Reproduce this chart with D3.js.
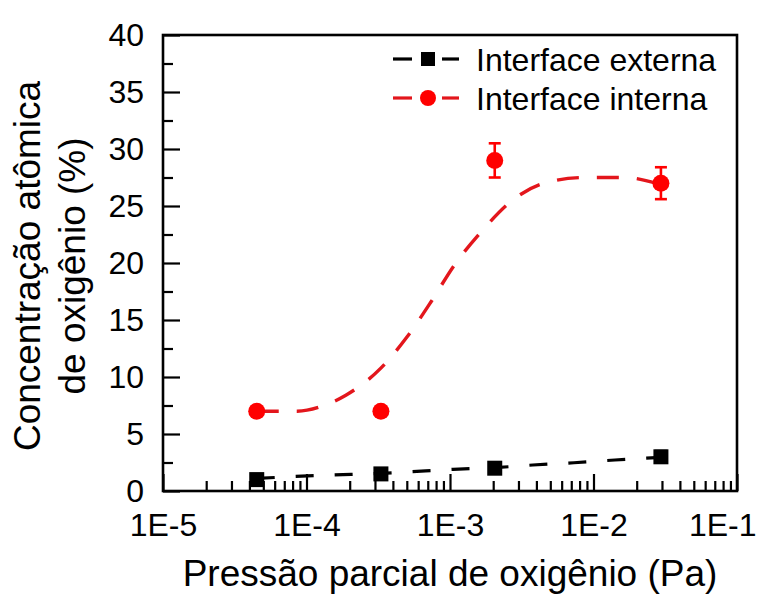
<!doctype html>
<head>
  <meta charset="utf-8">
  <script src="https://cdnjs.cloudflare.com/ajax/libs/d3/7.8.2/d3.min.js"></script>
</head>
<style>
    body { margin: 0; background: #fff; }
    svg text { font-family: "Liberation Sans", Arial, sans-serif; }
</style>
<body>
    <div id="chart"></div>
    <script>
        // pressão parcial (Pa) de cada amostra
        const pressao = [4.5e-5, 3.3e-4, 2.05e-3, 2.95e-2];
        // concentração (%) e barras de erro
        const externa = [1.0, 1.5, 2.0, 3.0];
        const externaErro = [0.3, 0.3, 0.4, 0.5];
        const interna = [7.0, 7.0, 29.0, 27.0];
        const internaErro = [0.3, 0.3, 1.5, 1.4];

        // curvas de ajuste tracejadas
        const ajusteExternaX = [4.5e-5, 7.55e-5, 1.46e-4, 3.31e-4, 5.43e-4, 1.05e-3, 2.06e-3, 3.78e-3, 7.31e-3, 1.41e-2, 2.95e-2];
        const ajusteExternaY = [1.1, 1.25, 1.4, 1.55, 1.7, 1.9, 2.05, 2.28, 2.48, 2.72, 2.95];
        const ajusteInternaX = [4.5e-5, 8.6e-5, 1.39e-4, 1.88e-4, 3.31e-4, 5.01e-4, 7.38e-4, 1.07e-3, 1.64e-3, 2.66e-3, 4.52e-3, 8.6e-3, 1.63e-2, 2.73e-2];
        const ajusteInternaY = [7.0, 7.0, 7.6, 8.4, 10.8, 13.5, 16.6, 19.8, 22.7, 25.4, 27.0, 27.5, 27.5, 27.0];

        const decadas = [1e-5, 1e-4, 1e-3, 1e-2, 1e-1];
        const rotulosX = ["1E-5", "1E-4", "1E-3", "1E-2", "1E-1"];
        const ticksY = [0, 5, 10, 15, 20, 25, 30, 35, 40];
        const legenda = ["Interface externa", "Interface interna"];

        const width = 760, height = 596;
        const margin = {top: 35, right: 23, bottom: 105, left: 163};

        const svg = d3.select('#chart').append('svg')
            .attr('width', width)
            .attr('height', height);

        const x = d3.scaleLog()
            .domain([1e-5, 1e-1])
            .range([margin.left, width - margin.right]);
        const y = d3.scaleLinear()
            .domain([0, 40])
            .range([height - margin.bottom, margin.top]);

        // ticks menores do eixo x (2..9 de cada década)
        const menoresX = [];
        decadas.slice(0, -1).forEach(d => {
            for (let k = 2; k <= 9; k++) menoresX.push(d * k);
        });
        const menoresY = ticksY.slice(0, -1).map(v => v + 2.5);

        const gx = svg.append('g').attr('transform', `translate(0,${y(0)})`);
        gx.call(d3.axisBottom(x).tickValues(menoresX).tickSize(-10).tickFormat(''));
        gx.call(g => g.append('g').call(
            d3.axisBottom(x).tickValues(decadas).tickSize(-17).tickPadding(22)
                .tickFormat((d, i) => rotulosX[i])));
        // o último rótulo fica encostado na borda direita
        gx.selectAll('.tick text')
            .filter(d => d === 1e-1)
            .attr('text-anchor', 'end')
            .attr('dx', 19);

        const gy = svg.append('g').attr('transform', `translate(${x(1e-5)},0)`);
        gy.call(d3.axisLeft(y).tickValues(menoresY).tickSize(-10).tickFormat(''));
        gy.call(g => g.append('g').call(
            d3.axisLeft(y).tickValues(ticksY).tickSize(-17).tickPadding(19)));

        svg.selectAll('.domain').remove();
        svg.selectAll('.tick line').attr('stroke', '#000').attr('stroke-width', 2.2);
        svg.selectAll('.tick text')
            .attr('fill', '#000')
            .attr('font-size', 32)
            .attr('font-family', '"Liberation Sans", Arial, sans-serif');

        // moldura
        svg.append('rect')
            .attr('x', x(1e-5))
            .attr('y', y(40))
            .attr('width', x(1e-1) - x(1e-5))
            .attr('height', y(0) - y(40))
            .attr('fill', 'none')
            .attr('stroke', '#000')
            .attr('stroke-width', 2.6);

        // curvas de ajuste
        const line = d3.line()
            .x(d => x(d[0]))
            .y(d => y(d[1]))
            .curve(d3.curveMonotoneX);

        svg.append('path')
            .datum(d3.zip(ajusteExternaX, ajusteExternaY))
            .attr('d', line)
            .attr('fill', 'none')
            .attr('stroke', '#000')
            .attr('stroke-width', 3.2)
            .attr('stroke-dasharray', '18 21');

        svg.append('path')
            .datum(d3.zip(ajusteInternaX, ajusteInternaY))
            .attr('d', line)
            .attr('fill', 'none')
            .attr('stroke', '#e3161c')
            .attr('stroke-width', 3.4)
            .attr('stroke-dasharray', '22 18');

        // barras de erro
        function errorBars(values, errors, color) {
            const data = d3.zip(pressao, values, errors);
            const g = svg.append('g').attr('stroke', color).attr('stroke-width', 2.6);
            g.selectAll('.bar').data(data).enter().append('line')
                .attr('x1', d => x(d[0])).attr('x2', d => x(d[0]))
                .attr('y1', d => y(d[1] - d[2])).attr('y2', d => y(d[1] + d[2]));
            [-1, 1].forEach(s => {
                g.selectAll(null).data(data).enter().append('line')
                    .attr('x1', d => x(d[0]) - 6).attr('x2', d => x(d[0]) + 6)
                    .attr('y1', d => y(d[1] + s * d[2])).attr('y2', d => y(d[1] + s * d[2]));
            });
        }
        errorBars(externa, externaErro, '#000');
        errorBars(interna, internaErro, '#f00');

        // marcadores
        svg.selectAll('.sq').data(d3.zip(pressao, externa)).enter().append('rect')
            .attr('x', d => x(d[0]) - 7.5)
            .attr('y', d => y(d[1]) - 7.5)
            .attr('width', 15).attr('height', 15)
            .attr('fill', '#000');

        svg.selectAll('.ci').data(d3.zip(pressao, interna)).enter().append('circle')
            .attr('cx', d => x(d[0]))
            .attr('cy', d => y(d[1]))
            .attr('r', 8.5)
            .attr('fill', '#f00');

        // legenda
        const leg = svg.append('g').attr('transform', 'translate(393,59)');
        const cores = ['#000', '#e3161c'];
        legenda.forEach((nome, i) => {
            const row = leg.append('g').attr('transform', `translate(0,${i * 39})`);
            row.append('line').attr('x1', 0).attr('x2', 19).attr('stroke', cores[i]).attr('stroke-width', 3.2);
            row.append('line').attr('x1', 49).attr('x2', 66).attr('stroke', cores[i]).attr('stroke-width', 3.2);
            if (i === 0) {
                row.append('rect').attr('x', 28).attr('y', -7).attr('width', 14).attr('height', 14).attr('fill', '#000');
            } else {
                row.append('circle').attr('cx', 35).attr('r', 8).attr('fill', '#f00');
            }
            row.append('text')
                .attr('x', 83)
                .attr('y', 11.5)
                .attr('font-size', 32)
                .attr('fill', '#000')
                .text(nome);
        });

        // títulos dos eixos
        const yTitle = svg.append('text')
            .attr('transform', `translate(0,${(y(0) + y(40)) / 2 + 3}) rotate(-90)`)
            .attr('text-anchor', 'middle')
            .attr('font-size', 37)
            .attr('fill', '#000');
        yTitle.append('tspan').attr('x', 0).attr('y', 40).text('Concentração atômica');
        yTitle.append('tspan').attr('x', 0).attr('y', 85).text('de oxigênio (%)');

        svg.append('text')
            .attr('x', (x(1e-5) + x(1e-1)) / 2)
            .attr('y', 586)
            .attr('text-anchor', 'middle')
            .attr('font-size', 37)
            .attr('fill', '#000')
            .text('Pressão parcial de oxigênio (Pa)');
    </script>
</body>
